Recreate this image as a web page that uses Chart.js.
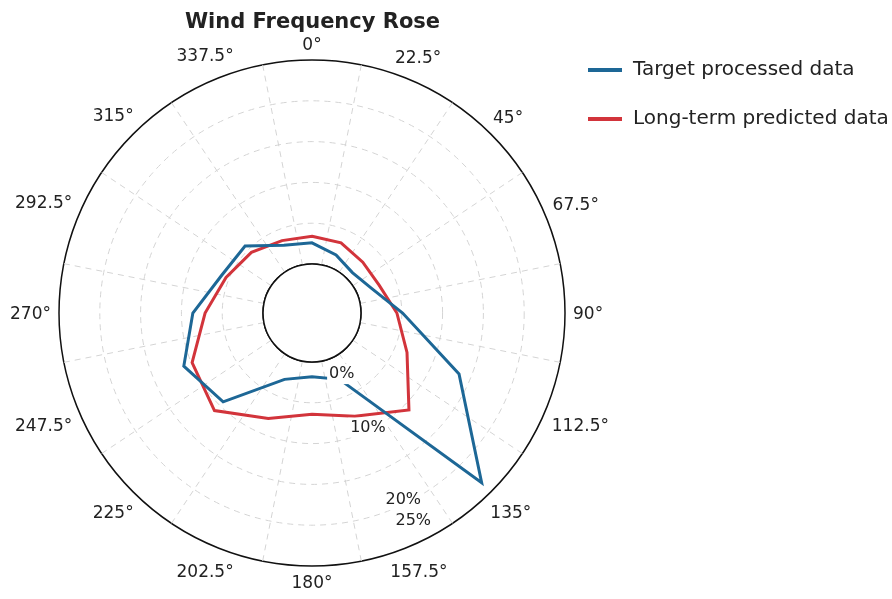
<!DOCTYPE html>
<html>
<head>
<meta charset="utf-8">
<script src="https://cdn.jsdelivr.net/npm/chart.js@4.4.1/dist/chart.umd.min.js"></script>
<style>
  html, body { margin: 0; padding: 0; background: #fff; }
  #wrap { width: 892px; height: 599px; }
</style>
</head>
<body>
<div id="wrap"><canvas id="rose"></canvas></div>
<script>
// wind directions (clockwise from north)
var directions = ['0°', '22.5°', '45°', '67.5°', '90°', '112.5°', '135°', '157.5°',
  '180°', '202.5°', '225°', '247.5°', '270°', '292.5°', '315°', '337.5°'];

// frequency in % per direction
var targetProcessed = [2.6, 1.7, 1.0, 1.9, 5.1, 13.5, 23.4, 2.8, 1.8, 2.8, 9.4, 11.0, 8.6, 6.0, 5.6, 3.0];
var longTermPredicted = [3.4, 3.3, 2.8, 2.9, 4.4, 6.6, 10.8, 7.7, 6.4, 8.0, 10.9, 9.9, 7.1, 5.4, 4.5, 3.6];

var seriesNames = ['Target processed data', 'Long-term predicted data'];
var gridValues = [0, 5, 10, 15, 20, 25];
var tickLabelValues = [0, 10, 20, 25];

var FONT = "'DejaVu Sans', sans-serif";
var blue = '#1d6796';
var red = '#d2343b';

// white hole, spokes between the directions, direction labels just outside the ring
var rosePlugin = {
  id: 'rose',
  beforeDatasetsDraw: function(chart) {
    var s = chart.scales.r;
    var c = chart.ctx;
    var r0 = s.getDistanceFromCenterForValue(0);
    var r1 = s.getDistanceFromCenterForValue(25);
    c.save();
    c.strokeStyle = '#d4d4d4';
    c.lineWidth = 1;
    c.setLineDash([6, 5]);
    for (var i = 0; i < 16; i++) {
      var a = (i * 22.5 + 11.25) * Math.PI / 180;
      c.beginPath();
      c.moveTo(s.xCenter + r0 * Math.sin(a), s.yCenter - r0 * Math.cos(a));
      c.lineTo(s.xCenter + r1 * Math.sin(a), s.yCenter - r1 * Math.cos(a));
      c.stroke();
    }
    c.setLineDash([]);
    c.beginPath();
    c.arc(s.xCenter, s.yCenter, r0, 0, Math.PI * 2);
    c.fillStyle = '#fff';
    c.fill();
    c.strokeStyle = '#111';
    c.lineWidth = 1.5;
    c.stroke();

    // direction labels
    c.font = '17px ' + FONT;
    c.textAlign = 'center';
    c.textBaseline = 'middle';
    c.fillStyle = '#222';
    chart.data.labels.forEach(function(lab, i) {
      var ang = s.getIndexAngle(i);
      var w = c.measureText(lab).width;
      var d = r1 + 8 + w / 2 * Math.abs(Math.sin(ang)) + 8 * Math.abs(Math.cos(ang));
      c.fillText(lab, s.xCenter + d * Math.sin(ang), s.yCenter - d * Math.cos(ang) + 2);
    });
    c.restore();
  },
  afterDatasetsDraw: function(chart) {
    var s = chart.scales.r;
    var c = chart.ctx;
    var nudge = { 0: 19, 10: -3, 20: -4, 25: -22 };
    var a = 154 * Math.PI / 180;
    c.save();
    c.font = '16px ' + FONT;
    c.textAlign = 'center';
    c.textBaseline = 'middle';
    tickLabelValues.forEach(function(v) {
      var d = s.getDistanceFromCenterForValue(v) + nudge[v];
      var x = s.xCenter + d * Math.sin(a);
      var y = s.yCenter - d * Math.cos(a);
      var txt = v + '%';
      var w = c.measureText(txt).width;
      c.fillStyle = '#fff';
      c.fillRect(x - w / 2 - 2, y - 10, w + 4, 20);
      c.fillStyle = '#222';
      c.fillText(txt, x, y);
    });
    c.restore();
  },
  afterDraw: function(chart) {
    var c = chart.ctx;
    c.save();
    c.font = '20px ' + FONT;
    c.textBaseline = 'middle';
    chart.data.datasets.forEach(function(ds, i) {
      var y = 70 + i * 49;
      c.strokeStyle = ds.borderColor;
      c.lineWidth = 4;
      c.beginPath();
      c.moveTo(588, y);
      c.lineTo(622, y);
      c.stroke();
      c.fillStyle = '#222';
      c.fillText(ds.label, 633, y);
    });
    c.restore();
  }
};

var ctx = document.getElementById('rose').getContext('2d');
var chart = new Chart(ctx, {
  type: 'radar',
  data: {
    labels: directions,
    datasets: [{
      label: seriesNames[0],
      data: targetProcessed,
      borderColor: blue,
      borderWidth: 3,
      fill: false,
      pointRadius: 0
    }, {
      label: seriesNames[1],
      data: longTermPredicted,
      borderColor: red,
      borderWidth: 3,
      fill: false,
      pointRadius: 0
    }]
  },
  options: {
    responsive: true,
    maintainAspectRatio: false,
    animation: false,
    layout: { padding: { left: 59, right: 326, top: 0, bottom: 32 } },
    plugins: {
      legend: { display: false },
      tooltip: { enabled: false },
      title: {
        display: true,
        text: 'Wind Frequency Rose',
        color: '#222',
        font: { family: FONT, size: 21, weight: 'bold' },
        padding: { top: 10, bottom: 24 }
      }
    },
    scales: {
      r: {
        min: -6,
        max: 25,
        afterBuildTicks: function(scale) {
          scale.ticks = gridValues.map(function(v) { return { value: v }; });
        },
        ticks: { display: false },
        angleLines: { display: false },
        pointLabels: { display: false },
        grid: {
          circular: true,
          color: function(c) {
            var v = c.tick ? c.tick.value : 0;
            return (v === 0 || v === 25) ? '#111' : '#d4d4d4';
          },
          lineWidth: function(c) {
            var v = c.tick ? c.tick.value : 0;
            return (v === 0 || v === 25) ? 1.5 : 1;
          }
        },
        border: {
          dash: function(c) {
            var v = c.tick ? c.tick.value : 0;
            return (v === 0 || v === 25) ? [] : [6, 5];
          }
        }
      }
    }
  },
  plugins: [rosePlugin]
});
</script>
</body>
</html>
